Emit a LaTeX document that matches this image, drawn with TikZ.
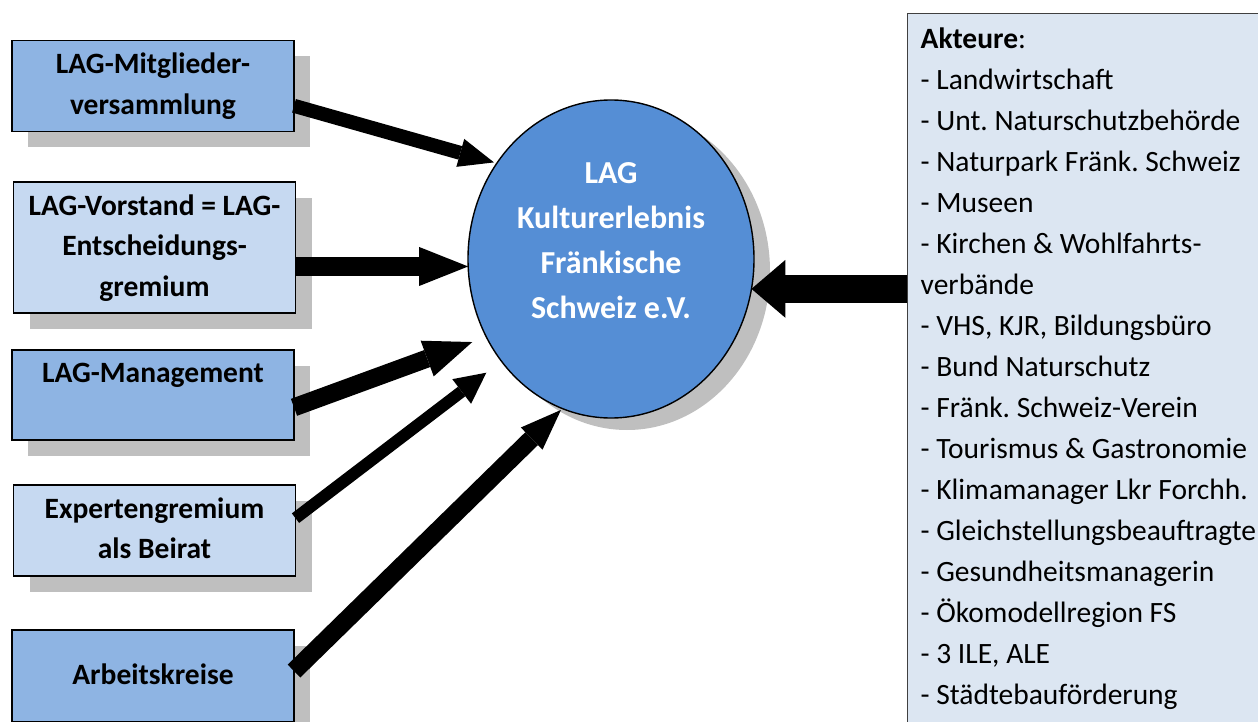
\documentclass[tikz,border=0pt]{standalone}
\usepackage{fontspec}
\setmainfont{Carlito}
\usetikzlibrary{arrows.meta,shapes.geometric,shadows,calc}
\definecolor{boxmid}{HTML}{8EB4E3}
\definecolor{boxlight}{HTML}{C6D9F1}
\definecolor{ellblue}{HTML}{558ED5}
\definecolor{aktfill}{HTML}{DCE6F2}
\definecolor{shadowgray}{HTML}{BFBFBF}
\tikzset{
  lagbox/.style={draw=black, line width=1.4pt, minimum width=282pt, align=center,
    inner sep=0pt, outer sep=0pt,
    font=\bfseries\fontsize{29.5}{40.5}\selectfont\frenchspacing,
    drop shadow={shadow xshift=16pt, shadow yshift=-16pt, fill=shadowgray, opacity=1, draw=none}},
  midbox/.style={lagbox, fill=boxmid},
  lightbox/.style={lagbox, fill=boxlight},
  bigarrow/.style n args={3}{draw=black, line width=#1,
    -{Triangle[line width=0pt, length=#2, width=#3]}},
}
\begin{document}
\begin{tikzpicture}[x=1pt, y=-1pt]
\useasboundingbox (0,0) rectangle (1258,722);
\clip (0,0) rectangle (1258,722);

% left boxes
\node (box1) [midbox, minimum height=91pt] at (153,86) {\strut LAG-Mitglieder-\\versammlung\strut};
\node (box2) [lightbox, minimum height=131pt] at (154.5,247.5) {\strut LAG-Vorstand = LAG-\\Entscheidungs-\\gremium\strut};
\node (box3) [midbox, minimum height=90pt] at (153,395) {\strut LAG-Management\\\strut};
\node (box4) [lightbox, minimum height=91pt] at (154.5,530.5) {\strut Expertengremium\\als Beirat\strut};
\node (box5) [midbox, minimum height=92pt] at (153,676) {\strut Arbeitskreise};

% central ellipse
\node (ell) [ellipse, draw=black, line width=1.4pt, fill=ellblue, minimum width=286pt,
  minimum height=318pt, inner sep=0pt, outer sep=0pt,
  drop shadow={shadow xshift=16pt, shadow yshift=-12pt, fill=shadowgray, opacity=1, draw=none}] at (611,259) {};
\node (elltext) [text=white, align=center, font=\bfseries\fontsize{32}{45}\selectfont\frenchspacing] at (611,242)
  {\strut LAG\\Kulturerlebnis\\Fränkische\\Schweiz e.V.\strut};

% actors box
\node (akt) [draw=black!75, line width=1.4pt, fill=aktfill, anchor=north west, inner xsep=13pt,
  inner ysep=0pt, text width=420pt, minimum height=710pt, align=left,
  font=\fontsize{29.5}{41}\selectfont\frenchspacing] at (907,13)
  {\spaceskip=0.226em\relax\strut\textbf{Akteure}:\\
   - Landwirtschaft\\
   - Unt. Naturschutzbehörde\\
   - Naturpark Fränk. Schweiz\\
   - Museen\\
   - Kirchen \& Wohlfahrts-\\
   verbände\\
   - VHS, KJR, Bildungsbüro\\
   - Bund Naturschutz\\
   - Fränk. Schweiz-Verein\\
   - Tourismus \& Gastronomie\\
   - Klimamanager Lkr Forchh.\\
   - Gleichstellungsbeauftragte\\
   - Gesundheitsmanagerin\\
   - Ökomodellregion FS\\
   - 3 ILE, ALE\\
   - Städtebauförderung\strut};

% arrows
\draw[bigarrow={14pt}{35pt}{29pt}, shorten >=3pt] (box1.-8) -- (ell.140);
\draw[bigarrow={19pt}{49pt}{39pt}] (box2.east |- ell.183) -- (ell.183);
\draw[bigarrow={18pt}{48pt}{38pt}, shorten >=15pt] (box3.-5) -- (ell.212);
\draw[bigarrow={12pt}{31pt}{31pt}, shorten >=19pt] (box4.5) -- (ell.223);
\draw[bigarrow={18pt}{41pt}{31pt}, shorten >=2pt] (box5.2) -- (ell.252);
\draw[bigarrow={28pt}{34pt}{58pt}] (akt.west |- ell.348) -- (ell.348);
\end{tikzpicture}
\end{document}
